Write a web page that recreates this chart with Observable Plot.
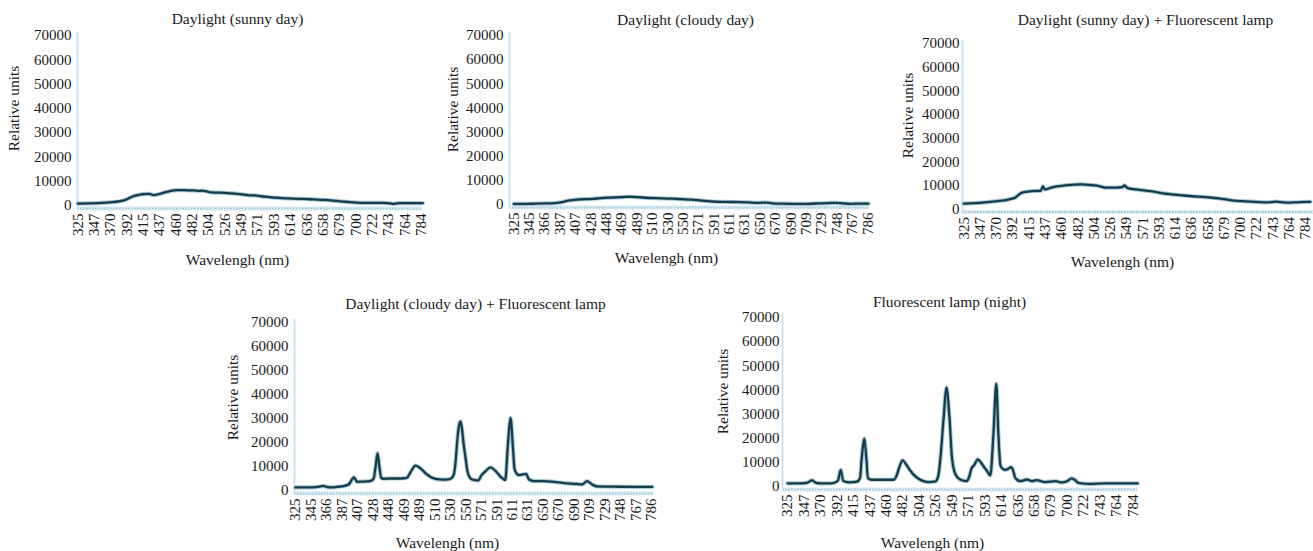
<!DOCTYPE html>
<html><head><meta charset="utf-8">
<script src="https://cdn.jsdelivr.net/npm/d3@7"></script>
<script src="https://cdn.jsdelivr.net/npm/@observablehq/plot@0.6"></script>
<style>
html,body{margin:0;padding:0;background:#fff;}
#root{position:relative;width:1313px;height:551px;overflow:hidden;background:#fff;}
#root svg{position:absolute;max-width:none;}
</style></head><body><div id="root"></div>
<script>
// ---------- data ----------
const ticksA = [325,347,370,392,415,437,460,482,504,526,549,571,593,614,636,658,679,700,722,743,764,784];
const ticksB = [325,345,366,387,407,428,448,469,489,510,530,550,571,591,611,631,650,670,690,709,729,748,767,786];
const yTicks = [0,10000,20000,30000,40000,50000,60000,70000];
const titles = ["Daylight (sunny day)","Daylight (cloudy day)","Daylight (sunny day) + Fluorescent lamp","Daylight (cloudy day) + Fluorescent lamp","Fluorescent lamp (night)"];
const xLabel = "Wavelengh (nm)";
const yLabel = "Relative units";

const sunnyNm  = [325,340,352,365,380,390,395,400,409,416,423,429,435,441,447,453,462,471,478,484,490,495,500,507,515,525,535,543,552,560,570,578,588,598,610,620,632,645,659,668,680,692,706,720,736,745,750,757,770,786];
const sunnyVal = [800,850,950,1200,1650,2300,3000,3700,4400,4700,4800,4300,4600,5100,5600,6000,6300,6300,6250,6200,6000,6100,5900,5400,5300,5200,5000,4800,4500,4200,4100,3700,3400,3200,2900,2800,2700,2500,2300,2100,1700,1400,1100,1100,1100,900,700,1000,1000,1000];

const cloudyNm  = [325,340,354,366,380,390,398,405,412,420,430,440,447,457,465,472,479,486,493,501,515,525,536,548,562,575,589,605,623,635,649,658,666,680,692,710,728,738,746,755,764,775,787];
const cloudyVal = [250,250,350,450,600,1000,1650,1900,2100,2200,2300,2600,2800,2900,3000,3100,3200,3100,3000,2800,2600,2500,2400,2200,2000,1600,1250,1100,1000,900,700,800,500,350,300,300,500,600,700,500,300,350,400];

const sunnyLampNm  = [325,340,354,368,383,390,396,400,403,410,419,425,431,434,436.5,440,445,450,460,469,478,487,496,505,512,520,530,537,543,546,549,552,562,577,588,598,609,620,633,646,659,672,683,693,703,713,725,735,747,759,772,786,790];
const sunnyLampVal = [2300,2500,2800,3200,3800,4300,4900,5900,6600,7200,7600,7700,7700,9600,8300,8500,9000,9400,9800,10100,10300,10400,10200,10000,9600,9000,9000,9100,9200,10000,9200,8700,8300,7700,7200,6600,6200,5900,5500,5200,4900,4500,4000,3500,3300,3100,2900,2800,3100,2700,2800,3000,3000];

const cloudyLampNm  = [325,340,352,358,362,366,372,380,390,396,398,400,402.4,404.5,406.6,412,420,426,429,431.4,434,436.5,438.7,442,450,460,470,473,477.6,484,491.4,498,504.4,513,521,526,530,534.6,537,539,541,543,545,547,549.6,552,554,558,563,567,571.2,576.4,583,589,596,602,605.5,608.8,612.2,614,617,620,625,629,632.4,638.6,650.8,663.8,676.6,694,700,705.9,712.3,718.6,740,767,787];
const cloudyLampVal = [1300,1300,1400,1700,1900,1500,1300,1500,1900,2600,3500,4600,5500,4600,3600,3700,3800,4100,5000,9700,15500,9700,5300,4900,5000,5000,5100,5300,7600,10400,9000,7000,5600,4700,4500,4600,4800,6700,12500,20800,26500,28800,26000,20000,13900,8500,6250,4700,4300,4200,6300,8000,9600,8300,5800,4400,19400,30200,16700,9000,7000,6400,6700,6900,4700,3900,3900,3600,3100,2700,2500,3900,2500,1700,1600,1500,1500];

const nightNm  = [325,345,352,358,364,370,385,393.3,397.5,401,410,420,424,426.4,429.7,432.4,434.6,440,455,470,474,477.6,482,487,492.3,497,503.4,510,517,526,530,533,537.5,541.2,545.5,549,553.5,560,569,572,575,579,583.8,588,591.5,596,600,604,607.7,610.3,613,616,619.5,624,627,630,632.6,639.5,648.5,655,661,672,685,693.7,700,706.3,711,715,729,750,770,790];
const nightVal = [1300,1300,1600,2500,1500,1300,1300,2300,6900,2300,1700,2000,3500,12100,19800,12100,3500,2800,2800,2800,4500,8000,10800,9000,6600,4800,3200,2200,1800,2100,4500,12100,28700,41000,28700,12100,5200,2900,2200,4000,7300,9000,11200,9800,8300,6300,4600,21800,42500,21800,8700,7300,6900,7500,8000,6500,3600,2200,2900,2200,2600,1800,2200,1700,2200,3400,2600,1500,1100,1300,1300,1300];

// ---------- layout (page pixel geometry) ----------
const panels = [
  {nm: sunnyNm, val: sunnyVal, ticks: ticksA, box:[0,0,440,280], FL:77, FR:422, y70:35, y0:205, X0:77.3, X1:420.7, yPad:6, title:[237,19], yl:[14,108], xl:[237,260]},
  {nm: cloudyNm, val: cloudyVal, ticks: ticksB, box:[440,0,440,280], FL:509, FR:869, y70:35, y0:204, X0:513.3, X1:867.3, yPad:6, title:[685,20], yl:[453,109], xl:[666,258]},
  {nm: sunnyLampNm, val: sunnyLampVal, ticks: ticksA, box:[880,0,433,280], FL:962, FR:1313, y70:43, y0:208.5, X0:963.3, X1:1305, yPad:3, title:[1145,20], yl:[908,115], xl:[1122,262]},
  {nm: cloudyLampNm, val: cloudyLampVal, ticks: ticksB, box:[200,280,480,271], FL:294, FR:653, y70:322, y0:490, X0:295, X1:651, yPad:6, title:[475,304], yl:[233,397], xl:[447,543]},
  {nm: nightNm, val: nightVal, ticks: ticksA, box:[700,280,450,271], FL:782, FR:1137, y70:317, y0:486, X0:787, X1:1132.3, yPad:3, title:[949,302], yl:[723,391], xl:[932,543]}
];

const root = document.getElementById("root");
const font = "'Liberation Serif','Times New Roman',Times,serif";
const ink = "#1a1a1a";

panels.forEach((p, k) => {
  const [bx, by, bw, bh] = p.box;
  const FT = p.y70 - 3, FB = p.y0 + 5;
  const n = p.ticks.length;
  const xRange = p.ticks.map((t, i) => p.X0 + i * (p.X1 - p.X0) / (n - 1) - bx);
  const data = p.nm.map((w, i) => ({nm: w, v: p.val[i]}));
  const label = (txt, pos, extra) => Plot.text([txt], Object.assign({
    frameAnchor: "top-left", dx: pos[0] - p.FL, dy: pos[1] - FT,
    textAnchor: "middle", lineAnchor: "middle", fontSize: 15.5, fill: ink
  }, extra || {}));
  const svg = Plot.plot({
    width: bw, height: bh,
    marginLeft: p.FL - bx, marginRight: bx + bw - p.FR,
    marginTop: FT - by, marginBottom: by + bh - FB,
    style: {fontFamily: font, background: "transparent", overflow: "visible", color: ink},
    x: {type: "linear", domain: p.ticks, range: xRange},
    y: {domain: [0, 70000], range: [p.y0 - by, p.y70 - by]},
    marks: [
      Plot.ruleY([0], {dy: 3, stroke: "#dcecf4", strokeWidth: 4}),
      Plot.ruleY([0], {dy: 3, stroke: "#a6cbde", strokeWidth: 2, strokeDasharray: "1.5,1.5"}),
      Plot.ruleX([p.ticks[0]], {dx: p.FL - p.X0, stroke: "#cfe3ee", strokeWidth: 2}),
      Plot.axisY({ticks: yTicks, tickSize: 0, tickPadding: p.yPad, tickFormat: d => String(d), fontSize: 15, label: null, fill: ink}),
      Plot.axisX({ticks: p.ticks, tickSize: 0, tickPadding: 3, tickRotate: -90, tickFormat: d => String(d), fontSize: 15, label: null, fill: ink}),
      Plot.line(data, {x: "nm", y: "v", stroke: "#5f9db4", strokeWidth: 4.2, strokeOpacity: 0.55, curve: "monotone-x"}),
      Plot.line(data, {x: "nm", y: "v", stroke: "#173c4b", strokeWidth: 2.3, curve: "monotone-x"}),
      label(titles[k], p.title),
      label(yLabel, p.yl, {rotate: -90}),
      label(xLabel, p.xl)
    ]
  });
  svg.style.left = bx + "px";
  svg.style.top = by + "px";
  root.appendChild(svg);
});
</script></body></html>
